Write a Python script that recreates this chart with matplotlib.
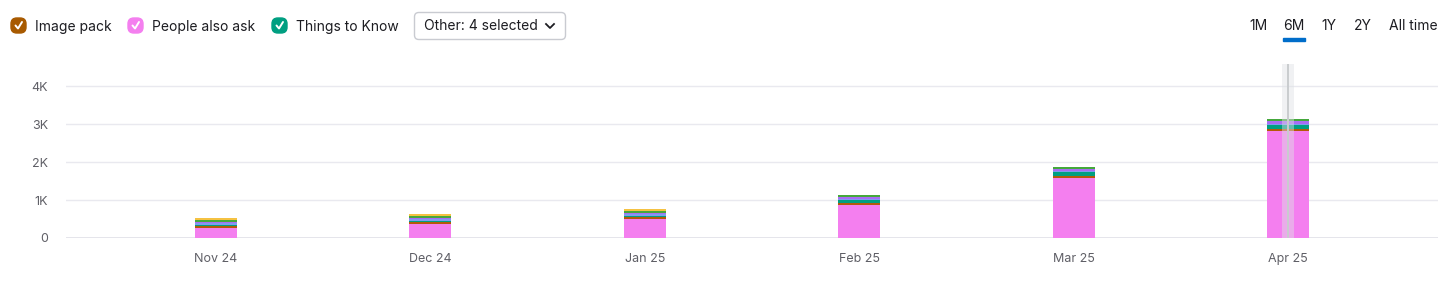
import numpy as np
import matplotlib.pyplot as plt
from matplotlib.patches import FancyBboxPatch, Rectangle

plt.rcParams['font.family'] = ['Inter', 'DejaVu Sans']

# ---------------------------- data ---------------------------- #
months = ['Nov 24', 'Dec 24', 'Jan 25', 'Feb 25', 'Mar 25', 'Apr 25']
people_also_ask = [270, 370, 500, 870, 1580, 2820]
image_pack = [40, 40, 40, 40, 50, 50]
things_to_know = [40, 40, 50, 90, 100, 100]
video = [40, 40, 40, 30, 30, 20]
knowledge_panel = [40, 40, 40, 40, 60, 80]
top_stories = [40, 40, 50, 50, 40, 50]
featured_snippet = [60, 60, 40, 10, 10, 10]

yticks = [0, 1000, 2000, 3000, 4000]
ytick_labels = ['0', '1K', '2K', '3K', '4K']
periods = ['1M', '6M', '1Y', '2Y', 'All time']
legend_names = ['Image pack', 'People also ask', 'Things to Know']

series = [people_also_ask, image_pack, things_to_know, video,
          knowledge_panel, top_stories, featured_snippet]
colors = ['#F47FEF', '#B35A0A', '#009F81', '#7E9CF0',
          '#A86CF4', '#45A83C', '#F5C242']

W, H = 1449, 281
fig = plt.figure(figsize=(W / 100, H / 100), dpi=100)


def fx(px):
    return px / W


def fy(py):
    return 1 - py / H


ax = fig.add_axes([fx(66), fy(238), fx(1438) - fx(66), fy(64) - fy(238)])
x = np.arange(len(months))
bottom = np.zeros(len(months))
for vals, c in zip(series, colors):
    ax.bar(x, vals, width=0.196, bottom=bottom, color=c, zorder=3, linewidth=0)
    bottom += np.asarray(vals)

# hover highlight on last month
ax.axvspan(x[-1] - 0.026, x[-1] + 0.026, color='#dfe2e5', alpha=0.45,
           zorder=4, lw=0)
ax.axvline(x[-1], color='#c9cccf', lw=1.4, zorder=5)

ax.set_xlim(-0.70, 5.70)
ax.set_ylim(0, 4580)
ax.set_yticks(yticks)
ax.set_yticklabels(ytick_labels)
ax.set_xticks(x)
ax.set_xticklabels(months)
ax.grid(axis='y', color='#e9e9ef', lw=1, zorder=0)
ax.axhline(0, color='#e0e0e8', lw=1.2, zorder=1)
for s in ax.spines.values():
    s.set_visible(False)
ax.tick_params(axis='both', length=0, labelsize=9, labelcolor='#5f5f66')
ax.tick_params(axis='y', pad=13)
ax.tick_params(axis='x', pad=11)

# ---------------------------- header ---------------------------- #
box_x = [11, 128, 272]
text_x = [35, 152, 296]
box_colors = ['#A85A00', '#F47FEF', '#009F81']
for bx, tx, c, name in zip(box_x, text_x, box_colors, legend_names):
    fig.patches.append(FancyBboxPatch((fx(bx), fy(33)), fx(15), fy(18) - fy(33),
                                      boxstyle='round,pad=0,rounding_size=0.004',
                                      transform=fig.transFigure, color=c,
                                      mutation_aspect=W / H))
    fig.lines.append(plt.Line2D([fx(bx + 4.5), fx(bx + 7), fx(bx + 11)],
                                [fy(25.5), fy(28.5), fy(22)],
                                transform=fig.transFigure, color='white', lw=1.4,
                                solid_capstyle='round', solid_joinstyle='round'))
    fig.text(fx(tx), fy(26.5), name, fontsize=10, color='#1d1d22', va='center')

fig.patches.append(FancyBboxPatch((fx(414.5), fy(39.5)), fx(151), fy(12.5) - fy(39.5),
                                  boxstyle='round,pad=0,rounding_size=0.003',
                                  transform=fig.transFigure, facecolor='white',
                                  edgecolor='#c9cbd1', lw=1,
                                  mutation_aspect=W / H))
fig.text(fx(424), fy(26.5), 'Other: 4 selected', fontsize=10, color='#1d1d22',
         va='center')
fig.lines.append(plt.Line2D([fx(546), fx(550), fx(554)], [fy(24), fy(28), fy(24)],
                            transform=fig.transFigure, color='#1d1d22', lw=1.3))

period_x = [1258, 1294, 1329, 1363, 1413]
for px, p in zip(period_x, periods):
    fig.text(fx(px), fy(26.5), p, fontsize=10, color='#1d1d22', ha='center',
             va='center')
fig.patches.append(Rectangle((fx(1283), fy(40.5)), fx(22), fy(38) - fy(40.5),
                             transform=fig.transFigure, color='#006DCA'))

fig.savefig('out.png', dpi=100)
